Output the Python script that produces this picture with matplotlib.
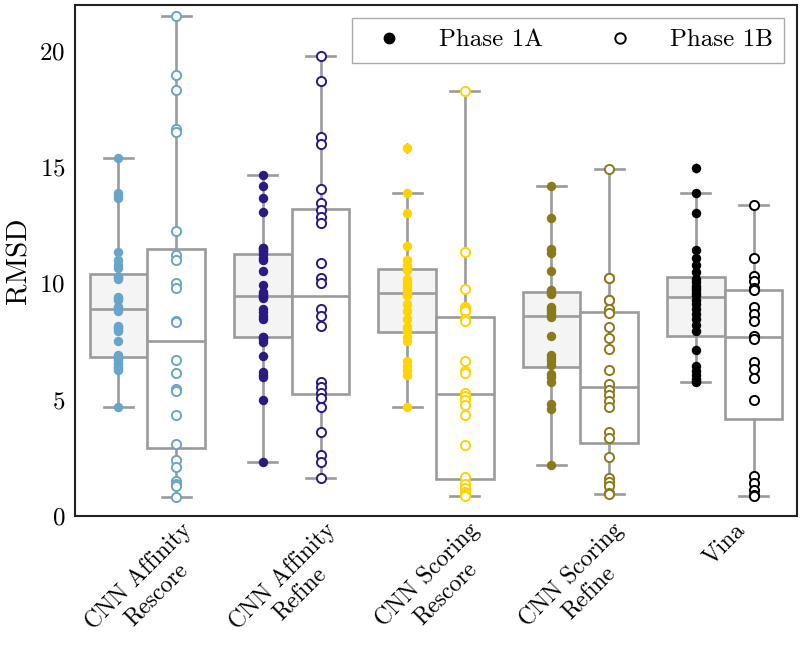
import matplotlib
matplotlib.use('Agg')
import matplotlib.pyplot as plt
from matplotlib.lines import Line2D
import numpy as np

plt.rcParams['font.family'] = 'serif'
plt.rcParams['font.serif'] = ['cmr10']
plt.rcParams['mathtext.fontset'] = 'cm'
plt.rcParams['axes.formatter.use_mathtext'] = True

categories = ['CNN Affinity\nRescore', 'CNN Affinity\nRefine', 'CNN Scoring\nRescore',
              'CNN Scoring\nRefine', 'Vina']
colors = ['#68a5c8', '#2a1b84', '#ffd400', '#8b7a1c', '#000000']

# RMSD values, Phase 1A and Phase 1B per method
aff_rescore_1a = [15.39, 13.87, 13.75, 13.65, 11.36, 11.02, 10.8, 10.66,
                  10.29, 10.19, 10.25, 9.42, 9.35, 9.27, 9.0, 8.98,
                  8.79, 8.18, 8.1, 8.03, 7.96, 7.52, 6.9, 6.86,
                  6.75, 6.72, 6.57, 6.5, 6.42, 6.35, 6.28, 4.67]
aff_rescore_1b = [21.5, 18.95, 18.31, 16.64, 16.5, 12.26, 11.21, 11.02, 10.0, 9.78,
                  8.39, 8.32, 6.69, 6.13, 5.47, 5.37, 4.35, 3.09, 2.41, 2.12,
                  1.49, 1.39, 1.31, 0.83]
aff_refine_1a = [14.64, 14.16, 13.65, 13.07, 11.53, 11.5, 11.45, 11.39,
                 11.24, 11.1, 11.02, 10.51, 9.93, 9.64, 9.55, 9.49,
                 9.4, 9.37, 8.91, 8.76, 8.61, 8.47, 7.71, 7.7,
                 7.59, 7.47, 6.89, 6.2, 6.06, 5.96, 4.99, 2.31]
aff_refine_1b = [19.75, 18.69, 16.28, 15.99, 14.04, 13.43, 13.14, 12.85, 12.6, 10.88,
                 10.22, 10.0, 8.91, 8.61, 8.18, 5.77, 5.55, 5.28, 5.08, 4.67,
                 3.62, 2.63, 2.34, 1.65]
sco_rescore_1a = [15.81, 13.9, 13.02, 11.62, 10.99, 10.8, 10.73,
                  10.58, 10.2, 10.07, 9.93, 9.78, 9.7, 9.64,
                  9.5, 9.49, 9.1, 8.79, 8.47, 8.1, 7.96,
                  7.7, 7.5, 6.64, 6.45, 6.28, 6.06, 4.67]
sco_rescore_1b = [18.25, 11.33, 9.75, 8.98, 8.9, 8.83,
                  8.45, 8.39, 6.64, 6.23, 6.13, 5.3,
                  5.15, 4.99, 4.79, 4.35, 3.04, 1.68,
                  1.39, 1.2, 1.05, 0.95, 0.9, 0.85]
sco_refine_1a = [14.16, 12.82, 11.46, 11.31, 10.51, 9.71,
                 9.6, 9.56, 8.98, 8.9, 8.83, 8.69,
                 8.54, 7.74, 6.93, 6.79, 6.64, 6.5,
                 6.1, 5.99, 5.77, 4.82, 4.6, 2.19]
sco_refine_1b = [14.93, 10.22, 10.22, 9.3, 9.3, 8.9, 8.73, 8.1, 7.64, 7.18,
                 6.28, 5.69, 5.4, 5.18, 4.96, 4.67, 3.62, 3.36, 2.55, 1.64,
                 1.46, 1.31, 1.0, 0.95]
vina_1a = [14.96, 13.9, 13.02, 11.45, 11.1, 10.8, 10.5,
           10.2, 10.05, 9.9, 9.8, 9.7, 9.6, 9.5,
           9.3, 9.1, 8.9, 8.7, 8.45, 8.2, 7.95,
           7.15, 6.45, 6.25, 6.05, 5.9, 5.8, 5.77]
vina_1b = [13.35, 11.1, 10.3, 10.1, 9.8,
           9.7, 9.0, 8.7, 8.4, 7.75,
           7.6, 6.6, 6.3, 5.95, 5.0,
           1.7, 1.4, 1.1, 0.9, 0.86]

phase_1a = [aff_rescore_1a, aff_refine_1a, sco_rescore_1a, sco_refine_1a, vina_1a]
phase_1b = [aff_rescore_1b, aff_refine_1b, sco_rescore_1b, sco_refine_1b, vina_1b]

fig = plt.figure(figsize=(8, 6.45), dpi=100)
ax = fig.add_axes([0.094, 0.2, 0.902, 0.792])

box_gray = '#9b9b9b'
x = np.arange(len(categories))
off = 0.2

for data, pos, face in [(phase_1a, x - off, '#f4f4f4'), (phase_1b, x + off, 'white')]:
    ax.boxplot(data, positions=pos, widths=0.4, patch_artist=True, manage_ticks=False,
               boxprops=dict(facecolor=face, edgecolor=box_gray, linewidth=1.9),
               medianprops=dict(color=box_gray, linewidth=1.9),
               whiskerprops=dict(color=box_gray, linewidth=1.9),
               capprops=dict(color=box_gray, linewidth=1.9),
               flierprops=dict(marker='d', markerfacecolor=box_gray,
                               markeredgecolor=box_gray, markersize=5),
               zorder=2)

for i, c in enumerate(colors):
    ax.plot(np.full(len(phase_1a[i]), x[i] - off), phase_1a[i], 'o', color=c,
            markersize=6.8, markeredgewidth=0, zorder=3)
    ax.plot(np.full(len(phase_1b[i]), x[i] + off), phase_1b[i], 'o', markerfacecolor='white',
            markeredgecolor=c, markersize=6.6, markeredgewidth=1.4, zorder=3)

ax.set_xlim(-0.5, 4.5)
ax.set_ylim(0, 21.95)
ax.set_yticks([0, 5, 10, 15, 20])
ax.set_xticks(x)
ax.set_xticklabels(categories, rotation=45, ha='center', fontsize=17)
ax.tick_params(axis='y', length=0, labelsize=18, pad=7)
ax.tick_params(axis='x', length=0, pad=2)
ax.set_ylabel('RMSD', fontsize=21, labelpad=5)
for s in ax.spines.values():
    s.set_linewidth(1.5)
    s.set_color('#222222')

handles = [Line2D([], [], linestyle='none', marker='o', color='black', markersize=7.5),
           Line2D([], [], linestyle='none', marker='o', markerfacecolor='white',
                  markeredgecolor='black', markeredgewidth=1.4, markersize=7.5)]
leg = ax.legend(handles, ['Phase 1A', 'Phase 1B'], loc='upper right', ncol=2, fontsize=18,
                handletextpad=1.0, columnspacing=2.1, fancybox=False, framealpha=1,
                borderpad=0.45)
leg.get_frame().set_edgecolor('#aaaaaa')
leg.get_frame().set_linewidth(1.0)

fig.savefig('out.png', dpi=100)
